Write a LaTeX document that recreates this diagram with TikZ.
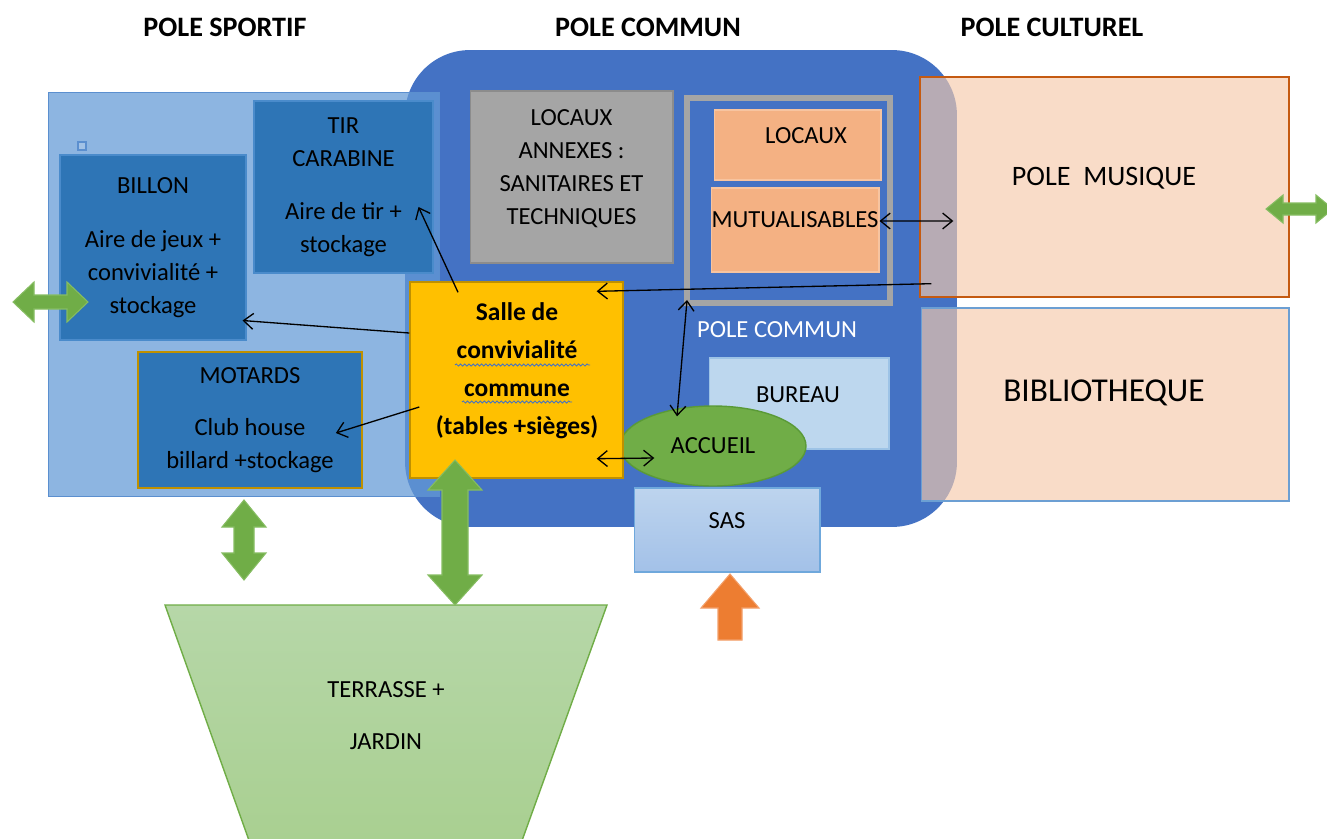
\documentclass[tikz,border=0pt]{standalone}
\usepackage{fontspec}
\setmainfont{Carlito}
\usetikzlibrary{shapes.geometric,arrows.meta,decorations.pathmorphing}

\definecolor{communblue}{HTML}{4472C4}
\definecolor{sportfill}{HTML}{649AD6}
\definecolor{sportline}{HTML}{5B8FCF}
\definecolor{clubblue}{HTML}{2E75B6}
\definecolor{clubline}{HTML}{4A8BCB}
\definecolor{annexgray}{HTML}{A5A5A5}
\definecolor{annexline}{HTML}{8C8C8C}
\definecolor{locorange}{HTML}{F4B183}
\definecolor{locline}{HTML}{F7C4A0}
\definecolor{bureaublue}{HTML}{BDD7EE}
\definecolor{bureauline}{HTML}{9DC3E6}
\definecolor{sastop}{HTML}{BDD4EE}
\definecolor{sasbottom}{HTML}{A3C1E8}
\definecolor{sasline}{HTML}{6FA8DC}
\definecolor{accueilgreen}{HTML}{70AD47}
\definecolor{accueilline}{HTML}{5A9A37}
\definecolor{sallejaune}{HTML}{FFC000}
\definecolor{salleline}{HTML}{BF9000}
\definecolor{peach}{HTML}{F6CAAC}
\definecolor{musiqueline}{HTML}{C55A11}
\definecolor{biblioline}{HTML}{6C9FD3}
\definecolor{terrtop}{HTML}{B6D7A8}
\definecolor{terrbottom}{HTML}{A8CF8F}
\definecolor{terrline}{HTML}{70AD47}
\definecolor{arrowgreen}{HTML}{70AD47}
\definecolor{arrowgreenline}{HTML}{86BD62}
\definecolor{arroworange}{HTML}{ED7D31}
\definecolor{arroworangeline}{HTML}{F3A06B}

\tikzstyle{box} = [rectangle, inner sep=0pt, line width=0.6pt, font=\fontsize{14}{18.8}\selectfont, align=center]
\tikzstyle{club} = [box, fill=clubblue, draw=clubline]
\tikzstyle{txt} = [inner sep=0pt, font=\fontsize{14}{18.8}\selectfont, align=center]
\tikzstyle{title} = [inner sep=0pt, font=\bfseries\fontsize{16}{19}\selectfont]
\tikzstyle{greenarrow} = [fill=arrowgreen, draw=arrowgreenline, line width=0.6pt]
\tikzstyle{link} = [line width=0.75pt, -{Straight Barb[length=5.5pt,width=9pt]}]
\tikzstyle{dlink} = [line width=0.75pt, {Straight Barb[length=5.5pt,width=9pt]}-{Straight Barb[length=5.5pt,width=9pt]}]
\tikzstyle{spell} = [draw=communblue, line width=0.5pt, decorate, decoration={snake, amplitude=0.6pt, segment length=2.4pt}]

\begin{document}
\begin{tikzpicture}[x=0.02cm,y=-0.02cm]
	\clip (0,0) rectangle (1327,838);
	\fill[white] (0,0) rectangle (1327,838);

	\node[title] (tsport) at (225,27) {POLE SPORTIF};
	\node[title] (tcommun) at (648,27) {POLE COMMUN};
	\node[title] (tculture) at (1052,27) {POLE CULTUREL};

	\node[rectangle, rounded corners=1.3cm, fill=communblue, minimum width=11.04cm, minimum height=9.54cm] (commun) at (681,288.5) {};

	\node[box, fill=sportfill, fill opacity=0.73, draw=sportline, minimum width=7.84cm, minimum height=8.1cm] (sportif) at (244,294.5) {};
	\node[box, fill=sportfill!60, draw=sportline, minimum size=0.16cm] (repere) at (82,146) {};
	\node[club, minimum width=3.72cm, minimum height=3.7cm] (billon) at (153,247.5) {BILLON\\[11.9pt]Aire de jeux +\\convivialité +\\stockage};
	\node[club, minimum width=3.58cm, minimum height=3.44cm] (tir) at (343.5,187) {TIR\\CARABINE\\[11.4pt]Aire de tir +\\stockage};
	\node[club, draw=salleline, line width=1pt, minimum width=4.48cm, minimum height=2.72cm] (motards) at (250,420) {MOTARDS\\[10.8pt]Club house\\billard +stockage};

	\node[box, fill=annexgray, draw=annexline, minimum width=4.06cm, minimum height=3.44cm] (annexes) at (571.5,177) {};
	\node[txt] (annexestxt) at (571.5,169) {LOCAUX\\ANNEXES :\\SANITAIRES ET\\TECHNIQUES};
	\node[box, draw=annexgray, line width=3.4pt, minimum width=4.06cm, minimum height=4.1cm] (mutual) at (788.5,200.5) {};
	\node[box, fill=locorange, draw=locline, minimum width=3.34cm, minimum height=1.4cm] (locaux) at (797.5,145) {};
	\node[txt] (locauxtxt) at (806,136) {LOCAUX};
	\node[box, fill=locorange, draw=locline, minimum width=3.36cm, minimum height=1.68cm] (mutualisables) at (795,230) {};
	\node[txt] (mutualtxt) at (795,220) {MUTUALISABLES};
	\node[txt, text=white] (communtxt) at (777,330) {POLE COMMUN};
	\node[box, fill=bureaublue, draw=bureauline, minimum width=3.6cm, minimum height=1.82cm] (bureau) at (799,403.5) {};
	\node[txt] (bureautxt) at (798,395) {BUREAU};
	\node[box, top color=sastop, bottom color=sasbottom, draw=sasline, minimum width=3.72cm, minimum height=1.68cm] (sas) at (727,530) {};
	\node[txt] (sastxt) at (727,521) {SAS};
	\node[ellipse, fill=accueilgreen, draw=accueilline, line width=0.8pt, inner sep=0pt, minimum width=3.72cm, minimum height=1.6cm, font=\fontsize{14}{18.8}\selectfont] (accueil) at (713,446) {ACCUEIL};

	\node[box, fill=sallejaune, draw=salleline, line width=0.8pt, minimum width=4.26cm, minimum height=3.92cm] (salle) at (516.5,380) {};
	\node[txt, font=\bfseries\fontsize{14.5}{21.6}\selectfont] (salletxt) at (517,371) {Salle de\\convivialité\\commune\\(tables +sièges)};
	\draw[spell] (455,365) -- (590,365);
	\draw[spell] (462,402) -- (572,402);

	\node[box, fill=peach, fill opacity=0.65, draw=musiqueline, line width=0.8pt, minimum width=7.38cm, minimum height=4.4cm] (musique) at (1104.5,187) {};
	\node[txt, font=\fontsize{16}{19}\selectfont] (musiquetxt) at (1104,178) {POLE\ \ MUSIQUE};
	\node[box, fill=peach, fill opacity=0.65, draw=biblioline, minimum width=7.36cm, minimum height=3.86cm] (biblio) at (1105,404.5) {};
	\node[txt, font=\fontsize{19}{23}\selectfont] (bibliotxt) at (1104,393) {BIBLIOTHEQUE};

	\shade[top color=terrtop, bottom color=terrbottom, draw=terrline, line width=0.8pt] (165,605) -- (607,605) -- (515,860) -- (256,860) -- cycle;
	\node[txt] (terrasse) at (386,716) {TERRASSE +\\[10.8pt]JARDIN};

	\draw[greenarrow] (13,302) -- (34,282) -- (34,295) -- (67,295) -- (67,282) -- (88,302) -- (67,322) -- (67,309) -- (34,309) -- (34,322) -- cycle;
	\draw[greenarrow] (1266,209) -- (1283,195) -- (1283,203) -- (1316,203) -- (1316,195) -- (1333,209) -- (1316,223) -- (1316,215) -- (1283,215) -- (1283,223) -- cycle;
	\draw[greenarrow] (244,500) -- (266,527) -- (254,527) -- (254,553) -- (266,553) -- (244,580) -- (222,553) -- (234,553) -- (234,527) -- (222,527) -- cycle;
	\draw[greenarrow] (455,460) -- (482,490) -- (468,490) -- (468,575) -- (482,575) -- (455,605) -- (428,575) -- (442,575) -- (442,490) -- (428,490) -- cycle;
	\draw[fill=arroworange, draw=arroworangeline, line width=0.6pt] (730,574) -- (759,608) -- (742,608) -- (742,640) -- (718,640) -- (718,608) -- (701,608) -- cycle;

	\draw[link] ([xshift=-1.17cm,yshift=-0.22cm]salle.north) -- ([xshift=-0.3cm,yshift=-0.4cm]tir.east);
	\draw[link] ([yshift=0.94cm]salle.west) -- ([xshift=-0.08cm,yshift=0.4cm]billon.south east);
	\draw[link] ([xshift=0.2cm,yshift=-0.54cm]salle.west) -- ([xshift=-0.54cm,yshift=-0.26cm]motards.east);
	\draw[link] ([xshift=0.24cm,yshift=0.28cm]musique.south west) -- ([xshift=-0.54cm,yshift=-0.2cm]salle.north east);
	\draw[dlink] ([yshift=0.18cm]mutualisables.east) -- ([xshift=0.68cm,yshift=-0.68cm]musique.west);
	\draw[dlink] ([xshift=0.06cm,yshift=0.12cm]mutual.south west) -- ([xshift=-0.72cm,yshift=-0.22cm]accueil.north);
	\draw[dlink] ([xshift=-0.54cm,yshift=0.4cm]salle.south east) -- ([xshift=0.7cm,yshift=-0.24cm]accueil.west);
\end{tikzpicture}
\end{document}
